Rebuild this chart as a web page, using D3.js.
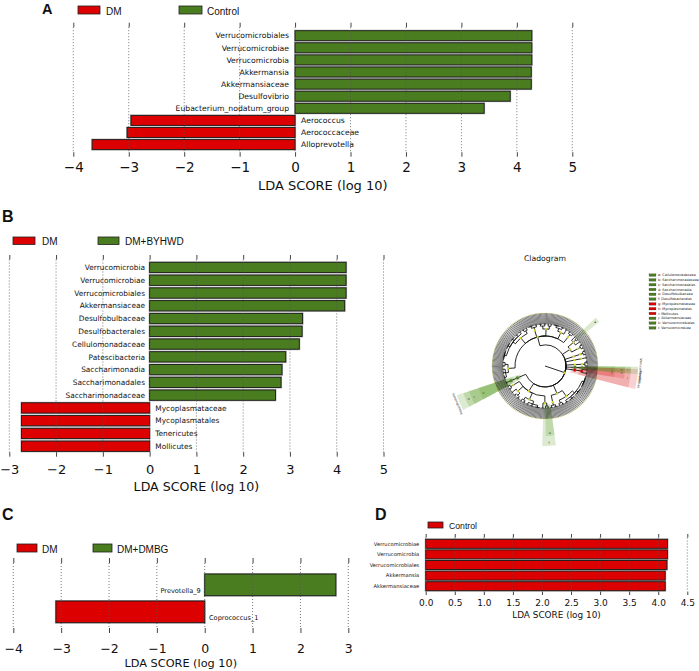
<!DOCTYPE html>
<html>
<head>
<meta charset="utf-8">
<script src="https://cdn.jsdelivr.net/npm/d3@7"></script>
<style>
body { margin: 0; background: #fff; }
svg { display: block; }
text { font-family: "DejaVu Sans", sans-serif; fill: #111; }
.leg { font-family: "Liberation Sans", Arial, sans-serif; }
.plab { font-family: "Liberation Sans", Arial, sans-serif; font-weight: bold; }
</style>
</head>
<body>
<div id="fig"></div>
<script>
// ---- LDA bar data ----
const groupsA = ["DM", "Control"];
const taxaA = ["Verrucomicrobiales", "Verrucomicrobiae", "Verrucomicrobia", "Akkermansia", "Akkermansiaceae",
  "Desulfovibrio", "Eubacterium_nodatum_group", "Aerococcus", "Aerococcaceae", "Alloprevotella"];
const ldaA = [4.27, 4.27, 4.27, 4.26, 4.26, 3.88, 3.41, -2.96, -3.03, -3.66];
const ticksA = [-4, -3, -2, -1, 0, 1, 2, 3, 4, 5];

const groupsB = ["DM", "DM+BYHWD"];
const taxaB = ["Verrucomicrobia", "Verrucomicrobiae", "Verrucomicrobiales", "Akkermansiaceae", "Desulfobulbaceae",
  "Desulfobacterales", "Cellulomonadaceae", "Patescibacteria", "Saccharimonadia", "Saccharimonadales",
  "Saccharimonadaceae", "Mycoplasmataceae", "Mycoplasmatales", "Tenericutes", "Mollicutes"];
const ldaB = [4.20, 4.20, 4.20, 4.17, 3.27, 3.26, 3.20, 2.91, 2.83, 2.81, 2.69, -2.74, -2.74, -2.74, -2.74];
const ticksB = [-3, -2, -1, 0, 1, 2, 3, 4, 5];

const groupsC = ["DM", "DM+DMBG"];
const taxaC = ["Prevotella_9", "Coprococcus_1"];
const ldaC = [2.74, -3.11];
const ticksC = [-4, -3, -2, -1, 0, 1, 2, 3];

const groupsD = ["Control"];
const taxaD = ["Verrucomicrobiae", "Verrucomicrobia", "Verrucomicrobiales", "Akkermansia", "Akkermansiaceae"];
const ldaD = [4.16, 4.16, 4.15, 4.12, 4.12];
const ticksD = [0, 0.5, 1, 1.5, 2, 2.5, 3, 3.5, 4, 4.5];

// ---- cladogram data ----
const cladePhyla = ["Firmicutes", "Actinobacteria", "Cyanobacteria", "Deferribacteres", "Epsilonbacteraeota",
  "Verrucomicrobia", "Tenericutes", "Bacteroidetes", "Proteobacteria", "Patescibacteria"];
// genera per family, nested as class > order > family
const cladeShape = [
  [[[6, 4, 3], [4, 3]], [[12, 9, 7, 5, 4], [4, 3]], [[7, 4]], [[5, 4], [3, 3]], [[8, 5], [4]], [[4, 4]]],
  [[[3], [1, 3], [3]], [[4, 3]]],
  [[[4, 3]]],
  [[[4]]],
  [[[5, 3]]],
  [[[1]]],
  [[[3], [4]]],
  [[[14, 10, 8, 5], [4, 3]], [[5, 4]]],
  [[[3, 2], [4]], [[7, 5, 4], [4, 3]], [[5, 4], [4]], [[4, 3]]],
  [[[5]]]
];
// marked clades: path = phylum.class.order.family
const cladeMarks = [
  { key: "a", name: "Cellulomonadaceae", grp: "DM+BYHWD", path: "1.0.1.0" },
  { key: "b", name: "Saccharimonadaceae", grp: "DM+BYHWD", path: "9.0.0.0" },
  { key: "c", name: "Saccharimonadales", grp: "DM+BYHWD", path: "9.0.0" },
  { key: "d", name: "Saccharimonadia", grp: "DM+BYHWD", path: "9.0" },
  { key: "e", name: "Desulfobulbaceae", grp: "DM+BYHWD", path: "8.0.0.0" },
  { key: "f", name: "Desulfobacterales", grp: "DM+BYHWD", path: "8.0.0" },
  { key: "g", name: "Mycoplasmataceae", grp: "DM", path: "6.0.0.0" },
  { key: "h", name: "Mycoplasmatales", grp: "DM", path: "6.0.0" },
  { key: "i", name: "Mollicutes", grp: "DM", path: "6.0" },
  { key: "j", name: "Akkermansiaceae", grp: "DM+BYHWD", path: "5.0.0.0" },
  { key: "k", name: "Verrucomicrobiales", grp: "DM+BYHWD", path: "5.0.0" },
  { key: "l", name: "Verrucomicrobiae", grp: "DM+BYHWD", path: "5.0" },
  { key: "", name: "Patescibacteria", grp: "DM+BYHWD", path: "9" },
  { key: "", name: "Tenericutes", grp: "DM", path: "6" },
  { key: "", name: "Verrucomicrobia", grp: "DM+BYHWD", path: "5" }
];

const RED = "#dc0000", GREEN = "#4a7d1f";

const svg = d3.select("#fig").append("svg")
  .attr("width", 699)
  .attr("height", 671);

function panelLetter(t, x, y, size) {
  svg.append("text").attr("class", "plab").attr("x", x).attr("y", y)
    .attr("font-size", size).text(t);
}

function legend(items, y, h, font) {
  items.forEach(it => {
    svg.append("rect").attr("x", it.x).attr("y", y).attr("width", it.w).attr("height", h)
      .attr("fill", it.c).attr("stroke", "#222").attr("stroke-width", 0.8);
    svg.append("text").attr("class", "leg").attr("x", it.tx).attr("y", y + h + 0.5)
      .attr("font-size", font).text(it.t);
  });
}

function ldaPanel(o) {
  const g = svg.append("g");
  const x = d3.scaleLinear().domain(o.domain).range(o.range);
  const gap = o.pitch - o.barH;
  const y0 = o.top - gap / 2;
  const y = d3.scaleBand().domain(o.taxa)
    .range([y0, y0 + o.taxa.length * o.pitch])
    .paddingInner(gap / o.pitch)
    .paddingOuter(gap / o.pitch / 2);
  const rows = o.taxa.map((t, i) => ({ t, v: o.lda[i] }));
  const fillOf = d => (o.groups.length > 1 && d.v > 0) ? GREEN : RED;

  // grey halo + bars
  g.selectAll(".halo").data(rows).enter().append("rect")
    .attr("x", d => Math.min(x(0), x(d.v)) - 1)
    .attr("y", d => y(d.t) - 1)
    .attr("width", d => Math.abs(x(d.v) - x(0)) + 2)
    .attr("height", y.bandwidth() + 2)
    .attr("fill", "#b4b4b4");
  g.selectAll(".bar").data(rows).enter().append("rect")
    .attr("x", d => Math.min(x(0), x(d.v)))
    .attr("y", d => y(d.t))
    .attr("width", d => Math.abs(x(d.v) - x(0)))
    .attr("height", y.bandwidth())
    .attr("fill", fillOf)
    .attr("stroke", "#1a1a1a")
    .attr("stroke-width", 0.9);

  // dotted grid, drawn over the bars
  g.selectAll(".grid").data(o.ticks).enter().append("line")
    .attr("x1", d => x(d)).attr("x2", d => x(d))
    .attr("y1", o.gridTop + o.tickLen).attr("y2", o.gridBot - o.tickLen)
    .attr("stroke", "#555").attr("stroke-width", 0.8)
    .attr("stroke-dasharray", "1,2");

  // ticks top and bottom
  const top = g.append("g").attr("transform", `translate(0,${o.gridTop + o.tickLen})`)
    .call(d3.axisTop(x).tickValues(o.ticks).tickSize(o.tickLen).tickFormat(""));
  const bot = g.append("g").attr("transform", `translate(0,${o.gridBot - o.tickLen})`)
    .call(d3.axisBottom(x).tickValues(o.ticks).tickSize(o.tickLen).tickFormat(o.fmt));
  [top, bot].forEach(a => {
    a.select(".domain").remove();
    a.selectAll(".tick line").attr("stroke", "#444");
  });
  bot.selectAll(".tick text")
    .attr("y", o.tickY - (o.gridBot - o.tickLen))
    .attr("dy", "0.36em")
    .attr("font-family", "DejaVu Sans")
    .attr("font-size", o.tickFont)
    .attr("fill", "#111");

  g.append("text")
    .attr("x", (o.range[0] + o.range[1]) / 2)
    .attr("y", o.titleY).attr("dy", "0.36em")
    .attr("text-anchor", "middle")
    .attr("font-size", o.titleFont)
    .text("LDA SCORE (log 10)");

  // taxon labels on the opposite side of zero
  g.selectAll(".lab").data(rows).enter().append("text")
    .attr("x", d => fillOf(d) === GREEN || o.groups.length === 1 ? x(0) - o.lpad : x(0) + o.rpad)
    .attr("y", d => y(d.t) + y.bandwidth() / 2 + (o.ldy || 0))
    .attr("dy", "0.36em")
    .attr("text-anchor", d => fillOf(d) === GREEN || o.groups.length === 1 ? "end" : "start")
    .attr("font-size", o.labFont)
    .attr("fill", "#222")
    .text(d => d.t);
}

// ---- Panel A ----
panelLetter("A", 42, 13.5, 14.5);
legend([
  { x: 78, w: 22, c: RED, tx: 106, t: groupsA[0] },
  { x: 179, w: 23, c: GREEN, tx: 207, t: groupsA[1] }
], 6, 8, 10);
ldaPanel({
  taxa: taxaA, lda: ldaA, groups: groupsA, ticks: ticksA, fmt: d3.format("d"),
  domain: [-4, 5], range: [73.3, 572.3],
  gridTop: 22.7, gridBot: 156.7, tickLen: 4.5,
  top: 30.7, pitch: 12.1, barH: 10,
  tickY: 167, tickFont: 13.5, titleY: 185, titleFont: 13,
  labFont: 7.7, lpad: 6, rpad: 6
});

// ---- Panel B ----
panelLetter("B", 2, 221.7, 16);
legend([
  { x: 13, w: 22, c: RED, tx: 42, t: groupsB[0] },
  { x: 98, w: 21, c: GREEN, tx: 125, t: groupsB[1] }
], 237, 7.5, 10);
ldaPanel({
  taxa: taxaB, lda: ldaB, groups: groupsB, ticks: ticksB, fmt: d3.format("d"),
  domain: [-3, 5], range: [9.3, 383.5],
  gridTop: 255, gridBot: 456.7, tickLen: 4.5,
  top: 262.3, pitch: 12.77, barH: 10.3,
  tickY: 469, tickFont: 13, titleY: 486.7, titleFont: 12.6,
  labFont: 7.4, lpad: 4.6, rpad: 5.7
});

// ---- Panel C ----
panelLetter("C", 2, 520, 16);
legend([
  { x: 17, w: 20, c: RED, tx: 42, t: groupsC[0] },
  { x: 93, w: 19, c: GREEN, tx: 117, t: groupsC[1] }
], 544, 8, 10);
ldaPanel({
  taxa: taxaC, lda: ldaC, groups: groupsC, ticks: ticksC, fmt: d3.format("d"),
  domain: [-4, 3], range: [13.3, 348.3],
  gridTop: 558, gridBot: 633, tickLen: 5,
  top: 574, pitch: 27, barH: 21.7,
  tickY: 648, tickFont: 12.5, titleY: 663, titleFont: 11.3,
  labFont: 6.6, lpad: 4, rpad: 4.3, ldy: 6
});

// ---- Panel D ----
panelLetter("D", 375, 520, 16);
legend([
  { x: 428, w: 15, c: RED, tx: 449, t: groupsD[0] }
], 522, 6, 8.7);
ldaPanel({
  taxa: taxaD, lda: ldaD, groups: groupsD, ticks: ticksD, fmt: d3.format(".1f"),
  domain: [0, 4.5], range: [425.7, 687.3],
  gridTop: 534, gridBot: 595, tickLen: 3.5,
  top: 539.3, pitch: 10.6, barH: 9,
  tickY: 603, tickFont: 9, titleY: 615, titleFont: 8.9,
  labFont: 5.2, lpad: 6.4, rpad: 6
});

// ---- Cladogram ----
const CX = 545, CY = 366;
const depthR = [0, 21, 30, 37, 40, 42, 53];
const treeData = {
  name: "root",
  children: [{
    name: "Bacteria", key: "k",
    children: cladePhyla.map((p, i) => ({
      name: p, key: `${i}`,
      children: cladeShape[i].map((cls, j) => ({
        key: `${i}.${j}`,
        children: cls.map((ord, k) => ({
          key: `${i}.${j}.${k}`,
          children: ord.map((n, l) => ({
            key: `${i}.${j}.${k}.${l}`,
            children: d3.range(n).map(m => ({ key: `${i}.${j}.${k}.${l}.${m}` }))
          }))
        }))
      }))
    }))
  }]
};
const root = d3.hierarchy(treeData);
d3.cluster().size([360, 1]).separation(() => 1)(root);
const nLeaves = root.leaves().length;
const leafStep = 360 / nLeaves;
const ROT = 250;
const ang = d => ((d.x + ROT) % 360) * Math.PI / 180;
const rad = d => depthR[d.depth];
const pt = (a, r) => [CX + r * Math.sin(a), CY - r * Math.cos(a)];
const byKey = new Map(root.descendants().map(d => [d.data.key, d]));

const clade = svg.append("g");
const outerR = { 1: 93, 2: 86, 3: 80, 4: 70 };
const innerR = { 1: 26, 2: 34, 3: 38, 4: 41 };

// shaded wedges
cladeMarks.forEach(m => {
  const node = byKey.get(m.path);
  const lv = node.leaves();
  const pad = 1.2 * leafStep;
  const a0 = (lv[0].x + ROT - leafStep / 2 - pad) * Math.PI / 180;
  const a1 = (lv[lv.length - 1].x + ROT + leafStep / 2 + pad) * Math.PI / 180;
  const lvl = m.path.split(".").length;
  clade.append("path")
    .attr("transform", `translate(${CX},${CY})`)
    .attr("d", d3.arc().innerRadius(innerR[lvl]).outerRadius(outerR[lvl]).startAngle(a0).endAngle(a1)())
    .attr("fill", m.grp === "DM" ? "#e03030" : "#5a9e2a")
    .attr("fill-opacity", 0.22);
  const am = (a0 + a1) / 2;
  const deg = am * 180 / Math.PI;
  if (m.key === "") {
    const p = pt(am, outerR[lvl] + 1.5);
    clade.append("text")
      .attr("transform", `translate(${p[0]},${p[1]}) rotate(${deg})`)
      .attr("text-anchor", "middle").attr("font-size", 3).attr("fill", "#333")
      .text(m.name);
  } else {
    const p = pt(am, outerR[lvl] - 3);
    clade.append("text")
      .attr("x", p[0]).attr("y", p[1]).attr("dy", "0.35em")
      .attr("text-anchor", "middle").attr("font-size", 3).attr("fill", "#333")
      .text(m.key);
  }
});

// branches: arc at parent radius, then radial to child
clade.selectAll(".lnk").data(root.links()).enter().append("path")
  .attr("fill", "none")
  .attr("stroke", "#111")
  .attr("stroke-width", d => d.target.height === 0 ? 0.55 : 0.9)
  .attr("d", ({ source: s, target: t }) => {
    const ap = ang(s), ac = ang(t), rp = rad(s), rc = rad(t);
    const p0 = pt(ap, rp), p1 = pt(ac, rp), p2 = pt(ac, rc);
    if (rp === 0) return `M${CX},${CY}L${p2}`;
    const dd = t.x - s.x;
    return `M${p0}A${rp},${rp} 0 ${Math.abs(dd) > 180 ? 1 : 0} ${dd > 0 ? 1 : 0} ${p1}L${p2}`;
  });

// nodes (yellow = not significant)
const markSet = new Map(cladeMarks.map(m => [m.path, m]));
clade.selectAll(".nd").data(root.descendants().filter(d => d.depth > 0 && d.depth < 4)).enter().append("circle")
  .attr("cx", d => pt(ang(d), rad(d))[0])
  .attr("cy", d => pt(ang(d), rad(d))[1])
  .attr("r", d => markSet.has(d.data.key) ? 1.6 : 1.1)
  .attr("fill", d => markSet.has(d.data.key) ? (markSet.get(d.data.key).grp === "DM" ? RED : GREEN) : "#e6e619")
  .attr("stroke", "#999").attr("stroke-width", 0.2);
clade.selectAll(".lf").data(root.leaves()).enter().append("circle")
  .attr("cx", d => pt(ang(d), rad(d))[0])
  .attr("cy", d => pt(ang(d), rad(d))[1])
  .attr("r", 0.35)
  .attr("fill", "#d8d830");

// title and legend
svg.append("text").attr("x", 545).attr("y", 258).attr("dy", "0.36em")
  .attr("text-anchor", "middle").attr("font-size", 7.7).attr("fill", "#333").text("Cladogram");

const legRows = cladeMarks.filter(m => m.key !== "");
const cl = svg.append("g");
cl.selectAll("rect").data(legRows).enter().append("rect")
  .attr("x", 649).attr("y", (d, i) => 273.8 + i * 4.8)
  .attr("width", 7).attr("height", 2.6)
  .attr("fill", d => d.grp === "DM" ? RED : GREEN)
  .attr("stroke", "#333").attr("stroke-width", 0.2);
cl.selectAll("text").data(legRows).enter().append("text")
  .attr("x", 658).attr("y", (d, i) => 275.1 + i * 4.8).attr("dy", "0.35em")
  .attr("font-size", 3.4).attr("fill", "#222")
  .text(d => `${d.key}: ${d.name}`);
</script>
</body>
</html>
